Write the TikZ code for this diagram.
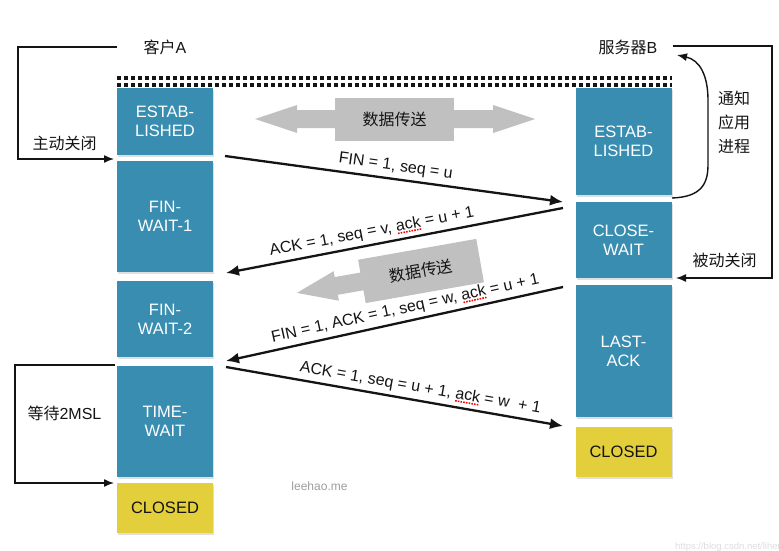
\documentclass[tikz,border=0pt]{standalone}
\usepackage{fontspec}
\setmainfont{Liberation Sans}
\newfontfamily\cjk{Noto Sans CJK SC}
\usetikzlibrary{arrows.meta,shadows}
\definecolor{boxblue}{RGB}{56,141,176}
\definecolor{boxyellow}{RGB}{227,206,60}
\definecolor{flowgray}{RGB}{192,192,192}
\definecolor{inkblack}{RGB}{20,20,20}
\newcommand\spellmark[1]{\setbox0\hbox{#1}\rlap{\raisebox{-3pt}{\textcolor{red}{\hbox to \wd0{\xleaders\hbox to 2.6pt{\hss\rule{1.6pt}{1.6pt}\hss}\hfill}}}}#1}
\begin{document}
\begin{tikzpicture}[x=1pt,y=-1pt,
  statebox/.style={draw=none, minimum width=96pt, inner sep=0pt, align=center,
    font=\fontsize{16.5}{19}\selectfont,
    drop shadow={shadow xshift=1pt,shadow yshift=-2pt,opacity=0.25}},
  bluebox/.style={statebox, fill=boxblue, text=white},
  yellowbox/.style={statebox, fill=boxyellow, text=inkblack},
  msg/.style={line width=2.3pt, inkblack, -{Latex[length=13pt,width=11pt]}},
  msgback/.style={line width=2.3pt, inkblack, {Latex[length=13pt,width=11pt]}-},
  lab/.style={sloped, above=1pt, inner sep=3pt, text=inkblack, font=\fontsize{16}{19}\selectfont},
  bracket/.style={line width=1.4pt, inkblack},
  bracketarrow/.style={bracket, -{Latex[length=10pt,width=8pt]}},
  txt/.style={text=inkblack, inner sep=0pt, font=\fontsize{16}{19}\selectfont},
  flowbox/.style={fill=flowgray, text=inkblack, inner sep=0pt, font=\fontsize{16}{19}\selectfont\cjk},
  dots/.style={line width=3.5pt, inkblack, dash pattern=on 3.5pt off 3.5pt}
]
\useasboundingbox (0,0) rectangle (779,551);
\clip (0,0) rectangle (779,551);
\fill[white] (0,0) rectangle (779,551);

% dotted top lines
\coordinate (dl1) at (117,78); \coordinate (dr1) at (672,78);
\coordinate (dl2) at (117,85); \coordinate (dr2) at (672,85);
\draw[dots] (dl1) -- (dr1);
\draw[dots] (dl2) -- (dr2);

% client boxes
\node[bluebox, minimum height=67pt]  (lEst) at (165,121.5) {ESTAB-\\LISHED};
\node[bluebox, minimum height=111pt] (lFW1) at (165,216.5) {FIN-\\WAIT-1};
\node[bluebox, minimum height=76pt]  (lFW2) at (165,319)   {FIN-\\WAIT-2};
\node[bluebox, minimum height=111pt] (lTW)  at (165,421.5) {TIME-\\WAIT};
\node[yellowbox, minimum height=50pt] (lCl) at (165,508)   {CLOSED};

% server boxes
\node[bluebox, minimum height=107pt] (rEst) at (623.5,141.5) {ESTAB-\\LISHED};
\node[bluebox, minimum height=76pt]  (rCW)  at (623.5,240)   {CLOSE-\\WAIT};
\node[bluebox, minimum height=132pt] (rLA)  at (623.5,351)   {LAST-\\ACK};
\node[yellowbox, minimum height=50pt] (rCl) at (623.5,452)   {CLOSED};

% titles
\node[txt] (cA) at (165,47) {{\cjk 客户}A};
\node[txt] (sB) at (628,47) {{\cjk 服务器}B};

% client active close bracket
\coordinate (ac1) at (117,47); \coordinate (ac2) at (18,47);
\coordinate (ac3) at (18,159); \coordinate (ac4) at (114,159);
\draw[bracketarrow] (ac1) -- (ac2) -- (ac3) -- (ac4);
\node[txt] (actclose) at (64.5,143) {\cjk 主动关闭};

% time-wait bracket
\coordinate (tw1) at (115,365); \coordinate (tw2) at (15,365);
\coordinate (tw3) at (15,483); \coordinate (tw4) at (114,483);
\draw[bracketarrow] (tw1) -- (tw2) -- (tw3) -- (tw4);
\node[txt] (wait2msl) at (64.5,413) {{\cjk 等待}2MSL};

% server passive close bracket
\coordinate (pc1) at (673,46); \coordinate (pc2) at (772,46);
\coordinate (pc3) at (772,278); \coordinate (pc4) at (676,278);
\draw[bracketarrow] (pc1) -- (pc2) -- (pc3) -- (pc4);
\node[txt] (pasclose) at (724.5,260) {\cjk 被动关闭};

% notify curve
\coordinate (nc1) at (672,198); \coordinate (nc2) at (677,55);
\draw[bracket, -{Latex[length=10pt,width=8pt]}] (nc1) .. controls (700,197) and (708,185) .. (708,165) -- (708,100) .. controls (708,76) and (700,60) .. (nc2);
\node[txt, align=center, font=\fontsize{16}{24}\selectfont\cjk] (notify) at (734,122) {通知\\应用\\进程};

% data transfer arrow 1 (double)
\fill[flowgray] (255,119) -- (297,105) -- (297,110) -- (493,110) -- (493,105) -- (535,119)
  -- (493,133) -- (493,128) -- (297,128) -- (297,133) -- cycle;
\node[flowbox, minimum width=119pt, minimum height=43pt] (dt1) at (394.5,119.5) {数据传送};

% data transfer arrow 2 (rotated, left)
\begin{scope}[shift={(421,271)}, rotate=10]
  \fill[flowgray] (-58,-9) -- (-86,-9) -- (-86,-15) -- (-126,0) -- (-86,15) -- (-86,9) -- (-58,9) -- cycle;
  \node[flowbox, rotate=10, minimum width=120pt, minimum height=44pt] (dt2) at (0,0) {数据传送};
\end{scope}

% messages
\coordinate (m1s) at (225,156); \coordinate (m1e) at (563,202);
\coordinate (m2s) at (563,208); \coordinate (m2e) at (226,273);
\coordinate (m3s) at (563,287); \coordinate (m3e) at (226,361);
\coordinate (m4s) at (226,367); \coordinate (m4e) at (563,426);

\draw[msg] (m1s) -- node[lab, pos=0.5] (l1) {FIN = 1, seq = u} (m1e);
\draw[msgback] (m2e) -- node[lab, pos=0.44] (l2) {ACK = 1, seq = v, \spellmark{ack} = u + 1} (m2s);
\draw[msgback] (m3e) -- node[lab, pos=0.54] (l3) {FIN = 1, ACK = 1, seq = w, \spellmark{ack} = u + 1} (m3s);
\draw[msg] (m4s) -- node[lab, pos=0.57] (l4) {ACK = 1, seq = u + 1, \spellmark{ack} = w\ \ + 1} (m4e);

% watermarks
\node[text=black!38, inner sep=0pt, font=\fontsize{12}{14}\selectfont] (wm1) at (319.5,486) {leehao.me};
\node[text=black!13, inner sep=0pt, anchor=west, font=\fontsize{9.5}{11}\selectfont] (wm2) at (675,547) {https://blog.csdn.net/liher};
\end{tikzpicture}
\end{document}
